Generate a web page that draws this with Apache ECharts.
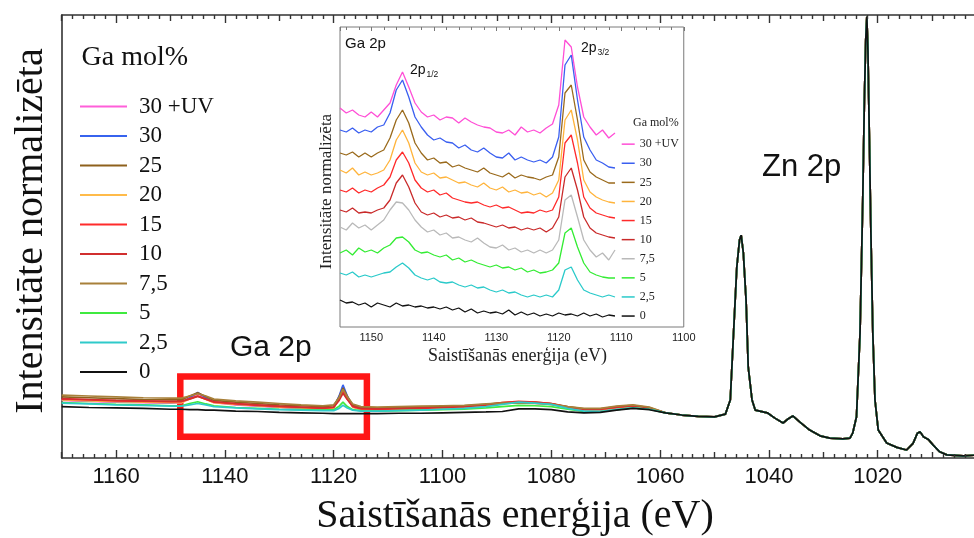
<!DOCTYPE html>
<html>
<head>
<meta charset="utf-8">
<script src="https://cdn.jsdelivr.net/npm/echarts@6/dist/echarts.min.js"></script>
<style>html,body{margin:0;padding:0;background:#fff}#c{width:974px;height:538px}</style>
</head>
<body>
<div id="c"></div>
<script>
// ---------- DATA ----------
const seriesNames = ['30 +UV','30','25','20','15','10','7,5','5','2,5','0'];
const mainColors  = ['#ff5fd9','#3763ee','#8e611c','#ffbb4a','#ff2b2b','#d12f2f','#a8803a','#3fea3f','#2fcaca','#111111'];
const insetColors = ['#ff4fd6','#3a5ff0','#9a6a1c','#ffb43c','#ff2a2a','#c92a2a','#b9b9b9','#33ec33','#2acaca','#111111'];

// Main chart axis ticks (eV)
const mainTickLabels = [1160,1140,1120,1100,1080,1060,1040,1020];
const mainMidTicks   = [1170,1150,1130,1110,1090,1070,1050,1030,1010];
const mainMinorTicks = [1168,1166,1164,1162,1158,1156,1154,1152,1148,1146,1144,1142,1138,1136,1134,1132,1128,1126,1124,1122,1118,1116,1114,1112,1108,1106,1104,1102,1098,1096,1094,1092,1088,1086,1084,1082,1078,1076,1074,1072,1068,1066,1064,1062,1058,1056,1054,1052,1048,1046,1044,1042,1038,1036,1034,1032,1028,1026,1024,1022,1018,1016,1014,1012,1008,1006,1004];
const insetTickLabels = [1150,1140,1130,1120,1110,1100];

// Main chart: Ga 2p / plasmon region (differs per sample), eV
const mainEnergy = [1170,1165,1160,1155,1150,1148,1146.5,1145,1143.5,1142,1138,1134,1130,1126,1122,1120,1119,1118.3,1117.5,1116.5,1115,1112,1108,1104,1100,1096,1092,1089,1086,1083,1080,1077,1074,1071,1068,1065,1062];
const mainUV  = [13.0,12.8,12.6,12.5,12.4,12.5,13.4,14.5,13.4,12.5,12.0,11.7,11.4,11.2,11.0,11.3,13.8,16.2,13.8,11.5,10.9,10.8,10.9,11.0,11.2,11.4,11.8,12.2,12.5,12.4,12.1,11.3,10.8,10.8,11.3,11.6,11.1];
const main30  = [13.1,12.9,12.7,12.6,12.5,12.6,13.6,14.8,13.6,12.6,12.1,11.8,11.5,11.3,11.1,11.4,14.0,16.5,14.0,11.6,11.0,10.9,11.0,11.1,11.3,11.5,11.9,12.3,12.6,12.5,12.2,11.4,10.9,10.9,11.4,11.7,11.2];
const main25  = [13.8,13.6,13.4,13.2,13.1,13.1,14.0,14.7,13.9,13.0,12.6,12.3,12.0,11.8,11.6,11.8,13.8,15.8,13.9,12.0,11.4,11.3,11.4,11.5,11.6,11.8,12.1,12.5,12.7,12.6,12.3,11.6,11.1,11.1,11.6,11.9,11.4];
const main20  = [13.1,12.9,12.7,12.6,12.5,12.5,13.3,14.0,13.2,12.5,12.1,11.8,11.5,11.3,11.1,11.3,13.4,15.3,13.4,11.5,11.0,10.9,11.0,11.1,11.3,11.5,11.9,12.3,12.6,12.5,12.2,11.4,10.9,10.9,11.4,11.7,11.2];
const main15  = [13.3,13.1,12.9,12.8,12.7,12.7,13.4,14.0,13.3,12.6,12.2,11.9,11.6,11.4,11.2,11.4,13.3,15.0,13.3,11.6,11.1,11.0,11.1,11.2,11.4,11.6,12.0,12.5,12.8,12.6,12.3,11.5,11.0,11.0,11.5,11.8,11.3];
const main10  = [13.4,13.2,13.0,12.9,12.8,12.8,13.3,13.9,13.3,12.7,12.3,12.0,11.7,11.5,11.3,11.5,13.0,14.6,13.2,11.7,11.2,11.1,11.2,11.3,11.4,11.6,12.0,12.4,12.6,12.5,12.2,11.5,11.0,11.0,11.5,11.8,11.3];
const main7_5 = [14.2,14.0,13.8,13.6,13.5,13.5,14.0,14.5,14.0,13.3,12.9,12.6,12.3,12.0,11.8,12.0,13.6,15.5,13.8,12.2,11.6,11.5,11.6,11.7,11.8,11.9,12.2,12.4,12.4,12.3,12.1,11.6,11.2,11.2,11.7,12.0,11.5];
const main5   = [12.5,12.3,12.1,12.0,11.8,11.8,12.3,12.7,12.2,11.8,11.4,11.2,11.0,10.9,10.8,10.9,11.7,12.6,11.6,10.9,10.7,10.6,10.7,10.8,10.9,11.0,11.3,11.6,11.9,11.8,11.6,11.0,10.5,10.5,10.9,11.3,11.0];
const main2_5 = [12.4,12.2,12.0,11.9,11.7,11.7,12.0,12.3,12.0,11.6,11.3,11.1,10.9,10.8,10.7,10.7,11.2,11.9,11.3,10.8,10.6,10.6,10.7,10.8,11.0,11.2,11.6,12.1,12.6,12.4,12.1,11.2,10.6,10.5,10.9,11.3,11.0];
const main0   = [11.6,11.4,11.3,11.2,11.0,11.0,10.9,10.9,10.8,10.8,10.6,10.5,10.3,10.2,10.1,10.0,10.0,10.0,10.0,10.0,10.0,10.0,10.1,10.1,10.2,10.3,10.4,10.5,11.1,11.1,10.9,10.4,10.2,10.3,10.8,11.2,10.9];

// Main chart: Zn 2p region (all samples overlap), eV
const znEnergy = [1059,1056,1053,1050,1048,1047.1,1046.5,1045.9,1045.4,1045.1,1044.7,1044.2,1043.8,1043.1,1042.5,1040.3,1038.9,1037.4,1036.5,1035.6,1034.3,1032.5,1030.6,1028.8,1026.4,1025.1,1024.6,1023.9,1023.25,1022.75,1022.45,1022.2,1022.0,1021.8,1021.55,1021.25,1020.9,1020.5,1019.9,1018.35,1016.5,1014.7,1013.5,1012.7,1012.2,1011.6,1010.7,1009.8,1008.6,1007.3,1004.3,1001];
const znValues = [10.2,9.7,9.4,9.3,9.9,13.1,28.2,43.1,49.2,50.3,46.3,35.7,20.5,13.1,10.8,10.2,9.0,7.9,8.8,9.5,8.1,6.3,5.0,4.5,4.3,4.5,5.6,9.3,28.2,58.2,80.8,94.4,99.6,92.1,73.4,50.8,28.2,13.1,6.3,3.4,2.4,1.8,3.3,5.6,5.9,4.8,4.2,2.9,1.4,0.7,0.5,0.7];

// Inset: Ga 2p, stacked spectra, eV
const insetEnergy = [1155,1154,1153,1152,1151,1150,1149,1148,1147,1146,1145,1144,1143,1142,1141,1140,1139,1138,1137,1136,1135,1134,1133,1132,1131,1130,1129,1128,1127,1126,1125,1124,1123,1122,1121,1120,1119,1118,1117,1116,1115,1114,1113,1112,1111];
const insUV  = [219,214,217,212,210,215,210,217,224,242,255,240,224,215,210,212,207,210,209,204,209,205,202,200,199,195,194,197,192,200,195,197,194,199,203,222,287,280,240,210,200,192,197,189,194];
const ins30  = [197,195,199,194,197,195,200,202,214,237,247,230,210,200,192,187,189,185,184,179,182,177,175,179,174,170,169,174,167,170,167,165,167,164,170,190,262,272,227,190,177,167,164,160,159];
const ins25  = [174,172,175,170,174,170,174,177,189,207,217,204,184,174,167,169,164,165,160,162,159,157,155,159,154,152,150,154,149,152,150,149,147,150,152,170,234,242,207,167,155,150,147,144,144];
const ins20  = [157,154,159,152,155,152,154,157,167,187,197,184,164,155,152,154,149,150,147,144,145,142,140,144,139,137,140,135,137,134,135,132,134,130,134,147,207,217,187,147,135,130,127,125,124];
const ins15  = [137,135,139,134,137,135,139,142,150,167,175,164,147,139,135,137,132,134,129,127,125,124,125,122,120,122,119,120,117,114,115,114,117,115,117,130,184,192,164,130,119,114,112,110,109];
const ins10  = [117,115,119,114,115,114,117,119,127,144,152,140,124,115,112,114,110,112,109,110,107,109,105,104,102,100,102,99,100,97,99,97,99,95,99,110,150,159,137,110,99,94,92,90,89];
const ins7_5 = [100,97,104,99,102,97,102,107,117,125,124,117,107,100,95,97,92,94,89,90,87,85,89,84,80,79,82,77,79,75,77,74,77,74,77,87,127,132,110,87,77,70,74,67,77];
const ins5   = [74,77,72,79,75,77,74,79,82,89,90,85,77,74,75,72,70,72,67,69,65,67,64,62,60,62,59,60,57,59,55,57,54,55,57,64,94,99,80,64,55,52,50,49,49];
const ins2_5 = [54,52,55,50,52,50,52,54,55,60,64,59,52,49,47,49,45,44,45,42,40,42,39,40,37,35,37,34,35,32,30,32,30,32,30,37,57,60,47,37,34,32,30,32,30];
const ins0   = [27,24,25,22,24,20,24,22,20,24,21,22,20,21,19,20,18,20,17,19,15,18,14,16,14,15,13,17,12,15,12,14,11,13,11,14,12,13,11,14,11,13,10,12,11];

// Highlighted Ga 2p window in the main chart [E_left, E_right, I_low, I_high]
const gaWindow = [1148.2, 1113.9, 4.8, 18.4];

// ---------- BUILD ----------
const mainVals  = [mainUV, main30, main25, main20, main15, main10, main7_5, main5, main2_5, main0];
const insetVals = [insUV, ins30, ins25, ins20, ins15, ins10, ins7_5, ins5, ins2_5, ins0];
const INS = 'inset:';
const SERIF = 'Liberation Serif';
const SANS = 'Liberation Sans';
const plain = v => String(v);

const series = [];
seriesNames.forEach((n, i) => {
  const data = mainEnergy.map((e, k) => [e, mainVals[i][k]])
    .concat(znEnergy.map((e, k) => [e, znValues[k]]));
  series.push({
    name: n, type: 'line', xAxisIndex: 0, yAxisIndex: 0, data,
    showSymbol: false, symbol: 'none', color: mainColors[i],
    lineStyle: { color: mainColors[i], width: 1.7 }, z: 2, animation: false
  });
});
seriesNames.forEach((n, i) => {
  series.push({
    name: INS + n, type: 'line', xAxisIndex: 4, yAxisIndex: 1,
    data: insetEnergy.map((e, k) => [e, insetVals[i][k]]),
    showSymbol: false, symbol: 'none', color: insetColors[i],
    lineStyle: { color: insetColors[i], width: 1.3 }, z: 12, animation: false
  });
});
series.push({
  type: 'line', xAxisIndex: 0, yAxisIndex: 0, data: [], z: 8,
  markArea: {
    silent: true,
    itemStyle: { color: 'rgba(0,0,0,0)', borderColor: '#ff1616', borderWidth: 6.5 },
    data: [[{ coord: [gaWindow[0], gaWindow[3]] }, { coord: [gaWindow[1], gaWindow[2]] }]]
  }
});

const axisCol = '#333333';
function mainX(pos, ticks, len, withLine, withLabels) {
  return {
    type: 'value', gridIndex: 0, position: pos, min: 1002.3, max: 1170, inverse: true, z: 6,
    axisLine: { show: withLine, lineStyle: { color: axisCol, width: 1.6 } },
    axisTick: { show: true, inside: true, length: len, customValues: ticks, lineStyle: { color: axisCol, width: 1.4 } },
    axisLabel: withLabels
      ? { show: true, customValues: ticks, formatter: plain, fontFamily: SANS, fontSize: 22, color: '#111', margin: 8 }
      : { show: false },
    splitLine: { show: false }
  };
}

const option = {
  animation: false,
  backgroundColor: '#ffffff',
  grid: [
    { left: 61.7, top: 15, right: 0, height: 443, show: false },
    { left: 340, top: 27, width: 343.75, height: 300, show: true, backgroundColor: '#ffffff',
      borderColor: '#7a7a7a', borderWidth: 1, z: 10 }
  ],
  xAxis: [
    mainX('bottom', mainTickLabels, 8, true, true),
    mainX('top', mainTickLabels, 8, true, false),
    mainX('bottom', mainMidTicks, 6, false, false),
    mainX('top', mainMidTicks, 6, false, false),
    { type: 'value', gridIndex: 1, position: 'bottom', min: 1100, max: 1155, inverse: true, z: 13,
      axisLine: { show: false }, axisTick: { show: false },
      axisLabel: { customValues: insetTickLabels, formatter: plain, fontFamily: SANS, fontSize: 11, color: '#222', margin: 5 },
      splitLine: { show: false } },
    { type: 'value', gridIndex: 1, position: 'top', min: 1100, max: 1155, inverse: true, interval: 10, z: 13,
      axisLine: { show: false },
      axisTick: { show: true, inside: true, length: 4, lineStyle: { color: '#777' } },
      minorTick: { show: true, splitNumber: 5, length: 3, lineStyle: { color: '#777' } },
      axisLabel: { show: false }, splitLine: { show: false } },
    mainX('bottom', mainMinorTicks, 4, false, false),
    mainX('top', mainMinorTicks, 4, false, false)
  ],
  yAxis: [
    { type: 'value', gridIndex: 0, min: 0, max: 100,
      axisLine: { show: true, lineStyle: { color: axisCol, width: 1.6 } },
      axisTick: { show: false }, axisLabel: { show: false }, splitLine: { show: false } },
    { type: 'value', gridIndex: 1, min: 0, max: 300, show: false, splitLine: { show: false } }
  ],
  legend: [
    { data: seriesNames, orient: 'vertical', left: 75, top: 86.8, itemGap: 0,
      icon: 'rect', itemWidth: 47, itemHeight: 2, selectedMode: false,
      textStyle: { fontFamily: SERIF, fontSize: 23, color: '#111', lineHeight: 29.5, padding: [0, 0, 0, 7] } },
    { data: seriesNames.map(n => INS + n), orient: 'vertical', left: 616.7, top: 129.6, itemGap: 0,
      icon: 'rect', itemWidth: 13, itemHeight: 1.5, selectedMode: false, z: 20,
      formatter: n => n.replace(INS, ''),
      textStyle: { fontFamily: SERIF, fontSize: 12, color: '#222', lineHeight: 19.1 } }
  ],
  graphic: [
    { type: 'text', x: 31, y: 231, rotation: Math.PI / 2, z: 50,
      style: { text: 'Intensitāte normalizēta', fontFamily: SERIF, fontSize: 40, fill: '#111', align: 'center', verticalAlign: 'middle' } },
    { type: 'text', x: 515, y: 516, z: 50,
      style: { text: 'Saistīšanās enerģija (eV)', fontFamily: SERIF, fontSize: 40, fill: '#111', align: 'center', verticalAlign: 'middle' } },
    { type: 'text', x: 81.5, y: 57.5, z: 50,
      style: { text: 'Ga mol%', fontFamily: SERIF, fontSize: 28, fill: '#111', align: 'left', verticalAlign: 'middle' } },
    { type: 'text', x: 230, y: 348, z: 50,
      style: { text: 'Ga 2p', fontFamily: SANS, fontSize: 30, fill: '#111', align: 'left', verticalAlign: 'middle' } },
    { type: 'text', x: 762, y: 167, z: 50,
      style: { text: 'Zn 2p', fontFamily: SANS, fontSize: 31, fill: '#111', align: 'left', verticalAlign: 'middle' } },
    { type: 'text', x: 326.5, y: 191.5, rotation: Math.PI / 2, z: 50,
      style: { text: 'Intensitāte normalizēta', fontFamily: SERIF, fontSize: 17, fill: '#222', align: 'center', verticalAlign: 'middle' } },
    { type: 'text', x: 517.5, y: 356.7, z: 50,
      style: { text: 'Saistīšanās enerģija (eV)', fontFamily: SERIF, fontSize: 18, fill: '#222', align: 'center', verticalAlign: 'middle' } },
    { type: 'text', x: 345, y: 43.5, z: 50,
      style: { text: 'Ga 2p', fontFamily: SANS, fontSize: 15, fill: '#111', align: 'left', verticalAlign: 'middle' } },
    { type: 'text', x: 581, y: 48, z: 50,
      style: { text: '2p', fontFamily: SANS, fontSize: 14, fill: '#111', align: 'left', verticalAlign: 'middle' } },
    { type: 'text', x: 597.5, y: 53, z: 50,
      style: { text: '3/2', fontFamily: SANS, fontSize: 8.5, fill: '#111', align: 'left', verticalAlign: 'middle' } },
    { type: 'text', x: 410, y: 70.3, z: 50,
      style: { text: '2p', fontFamily: SANS, fontSize: 14, fill: '#111', align: 'left', verticalAlign: 'middle' } },
    { type: 'text', x: 426.5, y: 75, z: 50,
      style: { text: '1/2', fontFamily: SANS, fontSize: 8.5, fill: '#111', align: 'left', verticalAlign: 'middle' } },
    { type: 'text', x: 633, y: 123, z: 50,
      style: { text: 'Ga mol%', fontFamily: SERIF, fontSize: 12, fill: '#222', align: 'left', verticalAlign: 'middle' } }
  ],
  series
};

const chart = echarts.init(document.getElementById('c'), null, { renderer: 'canvas' });
chart.setOption(option);
</script>
</body>
</html>
